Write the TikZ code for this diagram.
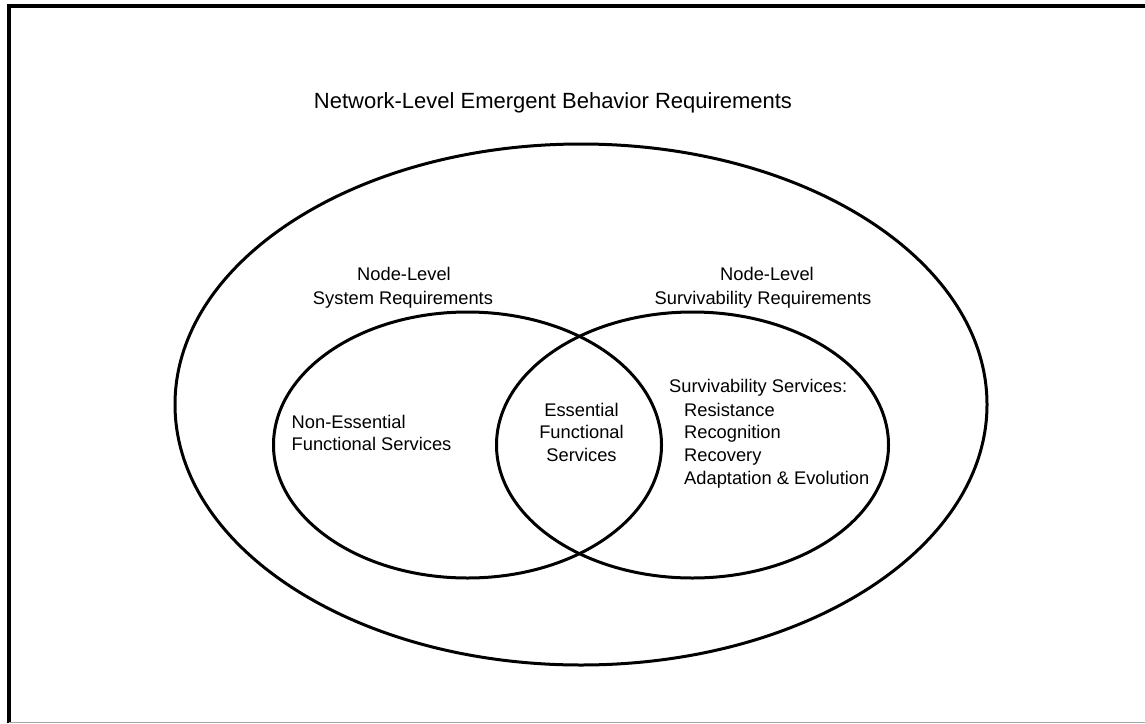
\documentclass[tikz,border=0pt]{standalone}
\usepackage{fontspec}
\setmainfont{Liberation Sans}
\usetikzlibrary{shapes.geometric}
\begin{document}
\begin{tikzpicture}[x=1pt,y=-1pt,
  lbl/.style={inner sep=0pt,font=\fontsize{18.3}{22}\selectfont},
  ttl/.style={inner sep=0pt,font=\fontsize{22}{26}\selectfont},
  ring/.style={draw=black,line width=3pt,ellipse,inner sep=0pt}]
\useasboundingbox (0,0) rectangle (1145,723);
% frame
\draw[line width=4.5pt] (9,723) -- (9,6) -- (1145,6);
\draw[line width=0.8pt,black!35] (9,722) -- (1145,722);
% ellipses
\node[ring,minimum width=812pt,minimum height=521pt] (outer) at (581,404.5) {};
\node[ring,minimum width=388pt,minimum height=266pt] (left) at (467.5,445) {};
\node[ring,minimum width=392pt,minimum height=266pt] (right) at (692.5,445) {};
% texts
\node[ttl,anchor=base] (t0) at (553,108) {Network-Level Emergent Behavior Requirements};
\node[lbl,anchor=base] (l1) at (404,280) {Node-Level};
\node[lbl,anchor=base] (l2) at (403,304) {System Requirements};
\node[lbl,anchor=base] (r1) at (767,280) {Node-Level};
\node[lbl,anchor=base] (r2) at (763,304) {Survivability Requirements};
\node[lbl,anchor=base west] (n1) at (291.5,428) {Non-Essential};
\node[lbl,anchor=base west] (n2) at (291.5,450.5) {Functional Services};
\node[lbl,anchor=base] (e1) at (581.5,416) {Essential};
\node[lbl,anchor=base] (e2) at (581.5,438.5) {Functional};
\node[lbl,anchor=base] (e3) at (581.5,461) {Services};
\node[lbl,anchor=base west] (s0) at (669,392) {Survivability Services:};
\node[lbl,anchor=base west] (s1) at (684,416) {Resistance};
\node[lbl,anchor=base west] (s2) at (684,438.5) {Recognition};
\node[lbl,anchor=base west] (s3) at (684,461) {Recovery};
\node[lbl,anchor=base west] (s4) at (684,484) {Adaptation \& Evolution};
\end{tikzpicture}
\end{document}
